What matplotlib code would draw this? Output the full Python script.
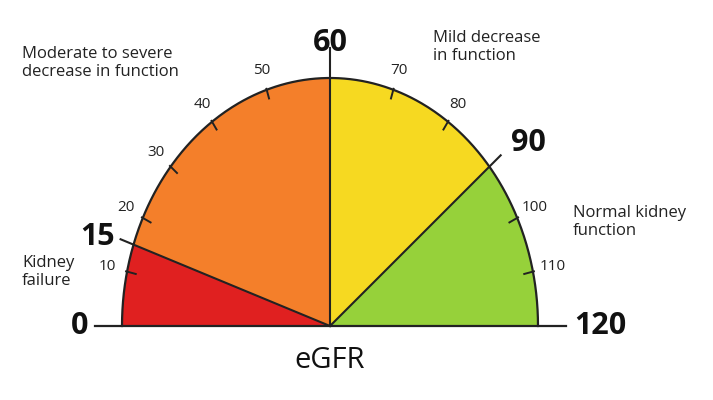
import numpy as np
import matplotlib
matplotlib.use("Agg")
import matplotlib.pyplot as plt
from matplotlib.patches import Polygon

bounds = [0, 15, 60, 90, 120]
zone_colors = ["#e02020", "#f47f2a", "#f6d921", "#96d13a"]
minor_ticks = [10, 20, 30, 40, 50, 70, 80, 100, 110]
zone_labels = ["Kidney\nfailure", "Moderate to severe\ndecrease in function",
               "Mild decrease\nin function", "Normal kidney\nfunction"]

CX, CY, RX, RY = 330, 326, 208, 248

def ang(v):
    return np.radians(180 - v * 1.5)

def rad(t):
    return 1.0 / np.sqrt((np.cos(t) / RX) ** 2 + (np.sin(t) / RY) ** 2)

def pt(v, scale=1.0, extra=0.0):
    t = ang(v)
    r = rad(t) * scale + extra
    return CX + r * np.cos(t), CY - r * np.sin(t)

fig = plt.figure(figsize=(7.13, 4.0), dpi=100)
ax = fig.add_axes([0, 0, 1, 1])
ax.set_xlim(0, 713); ax.set_ylim(400, 0); ax.axis("off")
plt.rcParams["font.family"] = ["Open Sans", "DejaVu Sans"]

for i in range(4):
    vs = np.linspace(bounds[i], bounds[i + 1], 100)
    pts = [(CX, CY)] + [pt(v) for v in vs]
    ax.add_patch(Polygon(pts, closed=True, facecolor=zone_colors[i], edgecolor="none"))

vs = np.linspace(0, 120, 400)
xs, ys = zip(*[pt(v) for v in vs])
ax.plot(xs, ys, color="#222", lw=1.6)
ax.plot([95, 566], [CY, CY], color="#222", lw=1.6)

for b, ext in [(15, 14), (60, 30), (90, 16)]:
    x1, y1 = pt(b, extra=ext)
    ax.plot([CX, x1], [CY, y1], color="#222", lw=1.5)

for v in minor_ticks:
    x0, y0 = pt(v, extra=-9)
    x1, y1 = pt(v, extra=1)
    ax.plot([x0, x1], [y0, y1], color="#222", lw=1.4)
    lx, ly = pt(v, extra=20)
    ax.text(lx, ly, str(v), ha="center", va="center", fontsize=11, color="#222")

big = {0: (80, 326), 15: (98, 237), 60: (330, 43), 90: (528, 143), 120: (600, 326)}
for v, (x, y) in big.items():
    ax.text(x, y, str(v), ha="center", va="center", fontsize=22, fontweight="bold",
            color="#111", family=["Liberation Sans Narrow", "Open Sans", "DejaVu Sans"])

ax.text(22, 272, zone_labels[0], ha="left", va="center", fontsize=12, color="#222", linespacing=1.1)
ax.text(22, 63, zone_labels[1], ha="left", va="center", fontsize=12, color="#222", linespacing=1.1)
ax.text(433, 47, zone_labels[2], ha="left", va="center", fontsize=12, color="#222", linespacing=1.1)
ax.text(573, 222, zone_labels[3], ha="left", va="center", fontsize=12, color="#222", linespacing=1.1)
ax.text(330, 360, "eGFR", ha="center", va="center", fontsize=21, color="#111")

fig.savefig("out.png", dpi=100)
